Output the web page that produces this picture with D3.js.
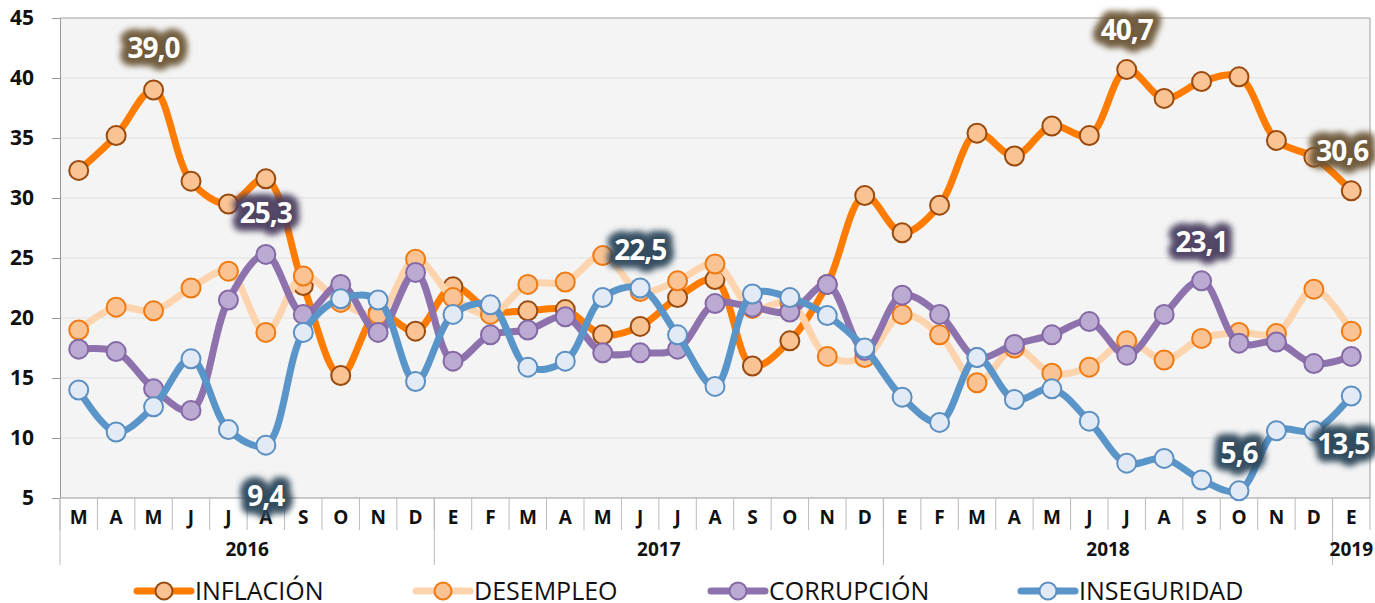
<!DOCTYPE html>
<html>
<head>
<meta charset="utf-8">
<title>Problemas principales</title>
<script src="https://d3js.org/d3.v7.min.js"></script>
<style>
  body { margin: 0; background: #fff; }
  svg text { font-family: 'Open Sans', sans-serif; }
</style>
</head>
<body>
<div id="chart"></div>
<script>
  // categories
  var months = ["M","A","M","J","J","A","S","O","N","D",
                "E","F","M","A","M","J","J","A","S","O","N","D",
                "E","F","M","A","M","J","J","A","S","O","N","D",
                "E"];
  var years = ["2016","2017","2018","2019"];
  var yearCounts = [10, 12, 12, 1];

  // series values
  var inflacion   = [32.3,35.2,39.0,31.4,29.5,31.6,22.7,15.2,20.4,18.9,
                     22.6,20.6,20.6,20.7,18.6,19.3,21.7,23.2,16.0,18.1,22.8,30.2,
                     27.1,29.4,35.4,33.5,36.0,35.2,40.7,38.3,39.7,40.1,34.8,33.4,
                     30.6];
  var desempleo   = [19.0,20.9,20.6,22.5,23.9,18.8,23.5,21.3,20.3,24.9,
                     21.7,20.3,22.8,23.0,25.2,22.2,23.1,24.5,20.8,21.3,16.8,16.7,
                     20.3,18.6,14.6,17.5,15.4,15.9,18.1,16.5,18.3,18.8,18.7,22.4,
                     18.9];
  var corrupcion  = [17.4,17.2,14.1,12.3,21.5,25.3,20.3,22.8,18.8,23.8,
                     16.4,18.6,19.0,20.1,17.1,17.1,17.4,21.2,20.9,20.5,22.8,17.3,
                     21.9,20.3,16.7,17.8,18.6,19.7,16.9,20.3,23.1,17.9,18.0,16.2,
                     16.8];
  var inseguridad = [14.0,10.5,12.6,16.6,10.7,9.4,18.8,21.6,21.5,14.7,
                     20.3,21.1,15.9,16.4,21.7,22.5,18.6,14.3,22.0,21.7,20.2,17.5,
                     13.4,11.3,16.7,13.2,14.1,11.4,7.9,8.3,6.5,5.6,10.6,10.6,
                     13.5];

  var seriesNames = ["INFLACIÓN","DESEMPLEO","CORRUPCIÓN","INSEGURIDAD"];
  var yTicks = [5,10,15,20,25,30,35,40,45];

  var series = [
    { name: seriesNames[0], values: inflacion,   line: "#FF7C00", fill: "#FAC393", stroke: "#9A4A0C", glow: "#6b5536" },
    { name: seriesNames[1], values: desempleo,   line: "#FDD4AE", fill: "#FAC393", stroke: "#F07A12", glow: "#6b5536" },
    { name: seriesNames[2], values: corrupcion,  line: "#8E72AE", fill: "#BBAAD2", stroke: "#8469A6", glow: "#4a3d5e" },
    { name: seriesNames[3], values: inseguridad, line: "#5A95C9", fill: "#E2EBF5", stroke: "#5C8FC2", glow: "#2c4558" }
  ];

  var W = 1375, H = 603;
  var plotLeft = 60, plotRight = 1370, plotTop = 18, plotBottom = 498;

  var svg = d3.select("#chart").append("svg")
    .attr("width", W).attr("height", H);

  var defs = svg.append("defs");
  defs.append("filter").attr("id", "glow")
    .attr("x", "-40%").attr("y", "-60%").attr("width", "180%").attr("height", "220%")
    .append("feGaussianBlur").attr("stdDeviation", 3);

  var x = d3.scaleBand()
    .domain(d3.range(months.length))
    .range([plotLeft, plotRight])
    .padding(0);
  var cx = function (i) { return x(i) + x.bandwidth() / 2; };

  var y = d3.scaleLinear().domain([5, 45]).range([plotBottom, plotTop]);

  // plot background
  svg.append("rect")
    .attr("x", plotLeft).attr("y", plotTop)
    .attr("width", plotRight - plotLeft).attr("height", plotBottom - plotTop)
    .attr("fill", "#F4F4F4");

  // gridlines
  svg.append("g").selectAll("line")
    .data(yTicks.slice(1, -1))
    .enter().append("line")
    .attr("x1", plotLeft).attr("x2", plotRight)
    .attr("y1", function (d) { return y(d); })
    .attr("y2", function (d) { return y(d); })
    .attr("stroke", "#E0E0E0").attr("stroke-width", 1.2);

  // plot border (top / right)
  svg.append("path")
    .attr("d", "M" + plotLeft + "," + plotTop + "H" + plotRight + "V" + plotBottom)
    .attr("fill", "none").attr("stroke", "#A0A0A0").attr("stroke-width", 1);

  // Y axis
  var yAxis = svg.append("g")
    .attr("transform", "translate(" + plotLeft + ",0)")
    .call(d3.axisLeft(y).tickValues(yTicks).tickSize(8).tickPadding(18));
  yAxis.select(".domain").attr("stroke", "#999");
  yAxis.selectAll(".tick line").attr("stroke", "#999");
  yAxis.selectAll("text")
    .attr("font-size", 21).attr("font-weight", 700).attr("fill", "#111")
    .attr("font-family", "'Open Sans', sans-serif");

  // X axis: months
  var xg = svg.append("g");
  xg.append("line")
    .attr("x1", plotLeft).attr("x2", plotRight)
    .attr("y1", plotBottom).attr("y2", plotBottom)
    .attr("stroke", "#999");
  xg.selectAll(".msep")
    .data(d3.range(months.length + 1))
    .enter().append("line")
    .attr("x1", function (i) { return i < months.length ? x(i) : plotRight; })
    .attr("x2", function (i) { return i < months.length ? x(i) : plotRight; })
    .attr("y1", plotBottom).attr("y2", plotBottom + 32)
    .attr("stroke", "#BBB");
  xg.selectAll(".mlabel")
    .data(months)
    .enter().append("text")
    .attr("x", function (d, i) { return cx(i); })
    .attr("y", 524)
    .attr("text-anchor", "middle")
    .attr("font-size", 19).attr("font-weight", 700).attr("fill", "#111")
    .text(function (d) { return d; });

  // X axis: years
  var starts = [0];
  yearCounts.forEach(function (c, i) { starts.push(starts[i] + c); });
  xg.selectAll(".ysep")
    .data(starts.slice(0, -1))
    .enter().append("line")
    .attr("x1", function (i) { return x(i); })
    .attr("x2", function (i) { return x(i); })
    .attr("y1", plotBottom).attr("y2", 565)
    .attr("stroke", "#BBB");
  xg.selectAll(".ylabel")
    .data(years)
    .enter().append("text")
    .attr("x", function (d, i) {
      var a = x(starts[i]);
      var b = starts[i + 1] < months.length ? x(starts[i + 1]) : plotRight;
      return (a + b) / 2;
    })
    .attr("y", 556)
    .attr("text-anchor", "middle")
    .attr("font-size", 19).attr("font-weight", 700).attr("fill", "#111")
    .text(function (d) { return d; });

  // series
  var line = d3.line()
    .x(function (d, i) { return cx(i); })
    .y(function (d) { return y(d); })
    .curve(d3.curveCatmullRom.alpha(0.5));

  series.forEach(function (s) {
    var g = svg.append("g");
    g.append("path")
      .datum(s.values)
      .attr("d", line)
      .attr("fill", "none")
      .attr("stroke", s.line)
      .attr("stroke-width", 7)
      .attr("stroke-linejoin", "round")
      .attr("stroke-linecap", "round");
    g.selectAll("circle")
      .data(s.values)
      .enter().append("circle")
      .attr("cx", function (d, i) { return cx(i); })
      .attr("cy", function (d) { return y(d); })
      .attr("r", 9.5)
      .attr("fill", s.fill)
      .attr("stroke", s.stroke)
      .attr("stroke-width", 2);
  });

  // data labels
  var labels = [
    { s: 0, i: 2,  dx: 0,  dy: -42 },
    { s: 0, i: 28, dx: 0,  dy: -40 },
    { s: 0, i: 34, dx: -9, dy: -40 },
    { s: 2, i: 5,  dx: 0,  dy: -41 },
    { s: 2, i: 30, dx: 0,  dy: -39 },
    { s: 3, i: 5,  dx: 0,  dy: 51 },
    { s: 3, i: 15, dx: 0,  dy: -38 },
    { s: 3, i: 31, dx: 0,  dy: -38 },
    { s: 3, i: 34, dx: -8, dy: 48 }
  ];
  var fmt = function (v) { return d3.format(".1f")(v).replace(".", ","); };
  var lg = svg.append("g");
  labels.forEach(function (l) {
    var s = series[l.s];
    var v = s.values[l.i];
    var px = cx(l.i) + l.dx, py = y(v) + l.dy;
    [16, 10].forEach(function (sw) {
      lg.append("text")
        .attr("x", px).attr("y", py).attr("dy", "0.36em")
        .attr("text-anchor", "middle")
        .attr("font-size", 28).attr("font-weight", 700).attr("letter-spacing", -1)
        .attr("fill", s.glow).attr("stroke", s.glow).attr("stroke-width", sw)
        .attr("stroke-linejoin", "round")
        .attr("filter", "url(#glow)")
        .attr("opacity", 0.8)
        .text(fmt(v));
    });
    lg.append("text")
      .attr("x", px).attr("y", py).attr("dy", "0.36em")
      .attr("text-anchor", "middle")
      .attr("font-size", 28).attr("font-weight", 700).attr("letter-spacing", -1)
      .attr("fill", "#fff")
      .text(fmt(v));
  });

  // legend
  var legendX = [134, 413, 708, 1018];
  var leg = svg.append("g");
  series.forEach(function (s, k) {
    var gx = legendX[k], gy = 591;
    leg.append("line")
      .attr("x1", gx + 3).attr("x2", gx + 57)
      .attr("y1", gy).attr("y2", gy)
      .attr("stroke", s.line).attr("stroke-width", 7).attr("stroke-linecap", "round");
    leg.append("circle")
      .attr("cx", gx + 30).attr("cy", gy).attr("r", 8.5)
      .attr("fill", s.fill).attr("stroke", s.stroke).attr("stroke-width", 2);
    leg.append("text")
      .attr("x", gx + 61).attr("y", gy).attr("dy", "0.36em")
      .attr("font-size", 25).attr("fill", "#111")
      .text(s.name);
  });
</script>
</body>
</html>
